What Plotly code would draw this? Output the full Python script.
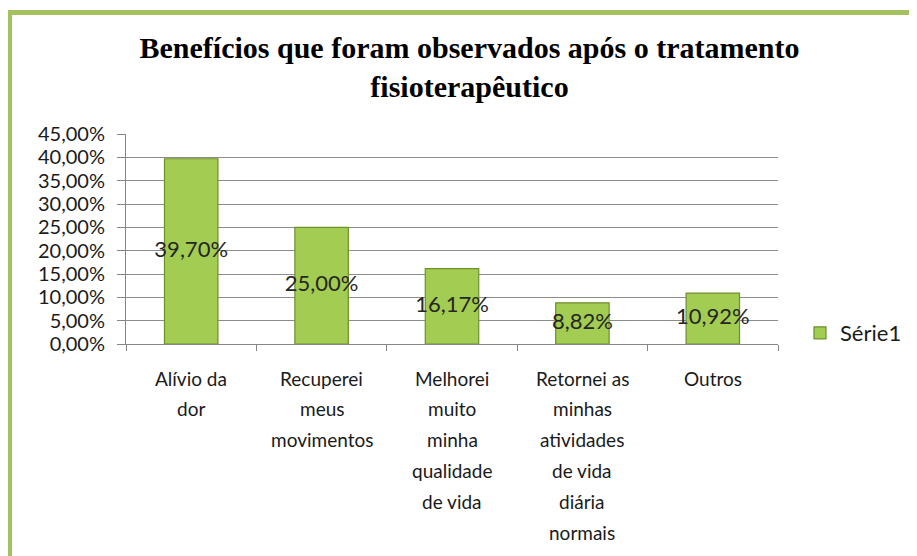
import plotly.graph_objects as go

categories = ["Alívio da dor", "Recuperei meus movimentos", "Melhorei muito minha qualidade de vida",
              "Retornei as minhas atividades de vida diária normais", "Outros"]
label_lines = [
    ["Alívio da", "dor"],
    ["Recuperei", "meus", "movimentos"],
    ["Melhorei", "muito", "minha", "qualidade", "de vida"],
    ["Retornei as", "minhas", "atividades", "de vida", "diária", "normais"],
    ["Outros"],
]
values = [39.70, 25.00, 16.17, 8.82, 10.92]
series_name = "Série1"
y_ticks = [0, 5, 10, 15, 20, 25, 30, 35, 40, 45]
y_tick_text = [f"{v:.2f}%".replace(".", ",") for v in y_ticks]

FONT = "Lato"
# page body has an 8px margin, so the figure is sized/positioned 8px in
W, H = 909, 548
L, R, T, B = 118, 139, 126, 212
pw = W - L - R
ph = H - T - B

fig = go.Figure()
fig.add_trace(go.Bar(
    x=categories, y=values, name=series_name,
    marker=dict(color="#a2cc52", line=dict(color="#6f8f2c", width=1.2)),
    width=0.41, showlegend=True, hoverinfo="skip",
))
fig.add_trace(go.Scatter(
    x=categories, y=[v / 2 for v in values], mode="text",
    text=[f"{v:.2f}%".replace(".", ",") for v in values],
    textfont=dict(family=FONT, size=22, color="#262626"),
    showlegend=False, hoverinfo="skip",
))

annotations = []
for cat, lines in zip(categories, label_lines):
    for i, line in enumerate(lines):
        annotations.append(dict(
            x=cat, xref="x", y=0, yref="paper", yanchor="middle",
            yshift=-(34 + i * 30.8), text=line, showarrow=False,
            font=dict(family=FONT, size=19, color="#1a1a1a"),
        ))

fig.update_layout(
    width=W, height=H,
    margin=dict(l=L, r=R, t=T, b=B, pad=0, autoexpand=False),
    paper_bgcolor="white", plot_bgcolor="white",
    title=dict(
        text="Benefícios que foram observados após o tratamento<br>fisioterapêutico",
        font=dict(family="Liberation Serif", size=30, color="black", weight="bold"),
        x=461.5 / W, xanchor="center", xref="container",
        y=1 - 50 / H, yanchor="middle", yref="container",
    ),
    xaxis=dict(
        showticklabels=False, ticks="outside", tickson="boundaries", ticklen=6,
        tickcolor="#868686", showline=True, linecolor="#868686", linewidth=1,
        showgrid=False, range=[-0.5, 4.5],
    ),
    yaxis=dict(
        range=[0, 45], tickvals=y_ticks, ticktext=y_tick_text,
        ticks="outside", ticklen=8, tickcolor="#868686", ticklabelstandoff=8,
        showline=True, linecolor="#868686", linewidth=1,
        showgrid=True, gridcolor="#8c8c8c", gridwidth=1, zeroline=False,
        tickfont=dict(family=FONT, size=20, color="#1a1a1a"),
    ),
    legend=dict(
        xref="container", yref="container",
        x=792 / W, xanchor="left", y=1 - 325 / H, yanchor="middle",
        font=dict(family=FONT, size=22, color="#1a1a1a"), bgcolor="rgba(0,0,0,0)",
        itemwidth=30,
    ),
    annotations=annotations,
    shapes=[dict(
        type="rect", xref="paper", yref="paper",
        x0=(1.5 - L) / pw, x1=(W + 30 - L) / pw,
        y0=-(B + 30) / ph, y1=(H - B - 4.5) / ph,
        line=dict(color="#a3c25f", width=5), fillcolor="rgba(0,0,0,0)", layer="above",
    )],
)
fig.write_html("out.html")
